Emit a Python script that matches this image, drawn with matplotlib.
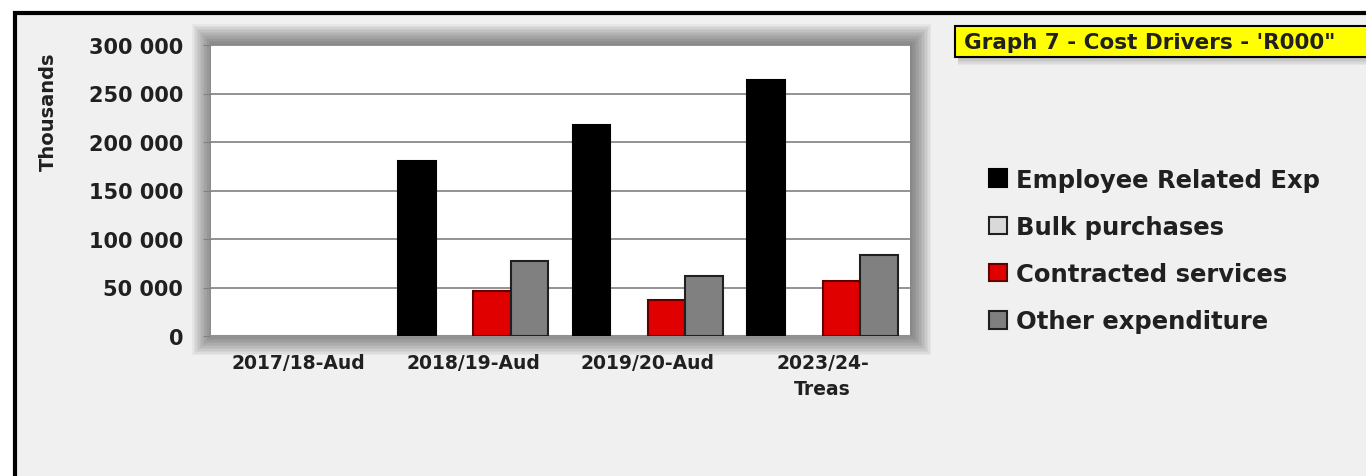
import numpy as np
import matplotlib.pyplot as plt
from matplotlib.patches import Rectangle, Patch
from matplotlib.ticker import FuncFormatter

# Cost drivers per financial year, R'000 (axis in thousands)
years = ['2017/18-Aud', '2018/19-Aud', '2019/20-Aud', '2023/24-\nTreas']
employee = [0, 180000, 217800, 263600]
bulk = [0, 0, 0, 0]
contracted = [0, 46000, 37400, 57000]
other = [0, 77300, 61500, 83500]

series_names = ['Employee Related Exp', 'Bulk purchases', 'Contracted services', 'Other expenditure']
face_colors = ['#000000', '#d9d9d9', '#e00000', '#808080']
edge_colors = ['#000000', '#202020', '#600000', '#202020']

W, H = 1366, 477
fig = plt.figure(figsize=(W / 100, H / 100), dpi=100)
fig.patch.set_facecolor('white')

def fx(px):
    return px / W

def fy(py):
    return 1 - py / H

# panel background and frame (bottom/right run off the image)
fig.patches.append(Rectangle((fx(15), fy(500)), 1, fy(14) - fy(500), transform=fig.transFigure,
                             facecolor='#f0f0f0', edgecolor='#000000', linewidth=3, zorder=0))

# soft shadow round the plot area
left, right, top, bottom = 211, 910, 46, 337
for i in range(14):
    g = 21 - i * 1.5
    fig.patches.append(Rectangle((fx(left - g + 2), fy(bottom + g - 2)),
                                 fx(right - left + 2 * g - 2), fy(top - g) - fy(bottom + g - 2),
                                 transform=fig.transFigure, facecolor='#303030',
                                 edgecolor='none', alpha=0.05, zorder=1))

ax = fig.add_axes([fx(left), fy(bottom), fx(right - left), fy(top) - fy(bottom)])
ax.set_facecolor('white')
ax.set_zorder(2)

x = np.arange(len(years))
width = 0.215
all_series = [employee, bulk, contracted, other]
for i, vals in enumerate(all_series):
    lw = [1.5 if v > 0 else 0 for v in vals]
    ax.bar(x + (i - 1.5) * width, vals, width, color=face_colors[i],
           edgecolor=edge_colors[i], linewidth=lw, zorder=3)

ax.set_xlim(-0.5, len(years) - 0.5)
ax.set_ylim(0, 300000)
ax.set_yticks(np.arange(0, 300001, 50000))
ax.yaxis.set_major_formatter(FuncFormatter(lambda v, p: f'{int(v):,}'.replace(',', ' ')))
ax.grid(axis='y', color='#808080', linewidth=1.2, zorder=0)
ax.set_axisbelow(True)
for s in ['top', 'right', 'left']:
    ax.spines[s].set_visible(False)
ax.spines['bottom'].set_color('#909090')
ax.spines['bottom'].set_linewidth(1.5)
ax.tick_params(axis='y', length=6, color='#808080', pad=14, labelsize=15)
ax.tick_params(axis='x', length=0, pad=12, labelsize=13.5)
ax.set_xticks(x)
ax.set_xticklabels(years, fontweight='bold', color='#202020', linespacing=1.5)
for lbl in ax.get_yticklabels():
    lbl.set_fontweight('bold')
    lbl.set_color('#202020')

fig.text(fx(48), fy(112), 'Thousands', rotation=90, ha='center', va='center',
         fontsize=14, fontweight='bold', color='#202020')

# title box with a faint drop shadow
for i in range(5):
    fig.patches.append(Rectangle((fx(958), fy(66 - i * 1.5)), fx(420), fy(30) - fy(66 - i * 1.5),
                                 transform=fig.transFigure, facecolor='#404040',
                                 edgecolor='none', alpha=0.06, zorder=1))
fig.patches.append(Rectangle((fx(955), fy(58)), fx(420), fy(27) - fy(58), transform=fig.transFigure,
                             facecolor='#ffff00', edgecolor='#000000', linewidth=1.5, zorder=3))
fig.text(fx(964), fy(43), "Graph 7 - Cost Drivers - 'R000\"", ha='left', va='center',
         fontsize=15.5, fontweight='bold', color='#202020', zorder=4)

handles = [Patch(facecolor=face_colors[i], edgecolor=edge_colors[i], linewidth=1.5)
           for i in range(len(series_names))]
leg = fig.legend(handles, series_names, loc='upper left', bbox_to_anchor=(fx(967), fy(147)),
                 frameon=False, prop={'weight': 'bold', 'size': 17.5},
                 handlelength=0.75, handleheight=0.75, handletextpad=0.35, labelspacing=0.95)
for t in leg.get_texts():
    t.set_color('#202020')

fig.savefig('out.png', dpi=100)
